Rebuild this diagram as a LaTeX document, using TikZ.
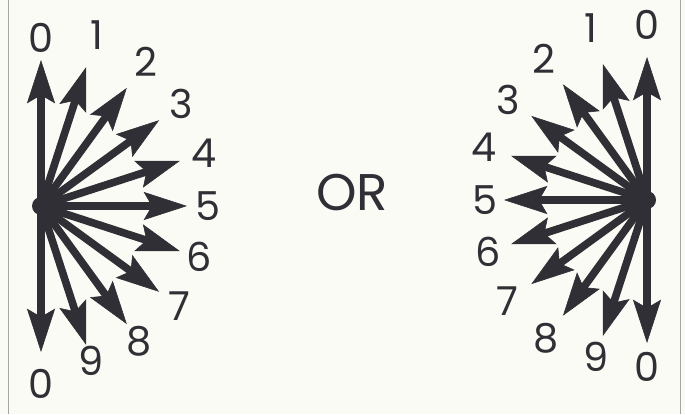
\documentclass[tikz,border=0pt]{standalone}
\usepackage{fontspec}
\setmainfont{Poppins}
\usetikzlibrary{arrows.meta,calc}
\definecolor{ink}{HTML}{2F2F35}
\definecolor{paper}{HTML}{FBFBF6}
\tikzset{
  vec/.style   = {-{Stealth[length=37pt,width=24pt,inset=7pt,line width=0.5pt]},
                  line width=6.5pt, ink},
  num/.style   = {font=\fontsize{34}{34}\selectfont, text=ink, inner sep=0pt},
  word/.style  = {font=\fontsize{44}{44}\selectfont, text=ink, inner sep=0pt},
  frame/.style = {gray!70, line width=0.8pt},
}

\begin{document}
\begin{tikzpicture}[x=0.03cm,y=0.03cm]
  \fill[paper] (0,0) rectangle (685,414);
  \useasboundingbox (0,0) rectangle (685,414);
  \draw[frame] (8,0) -- (8,414);
  \draw[frame] (680,0) -- (680,414);
  % left fan: 0 on top, turning clockwise down to the other 0
  \coordinate (Lc) at (41,208);
  \foreach \k/\t/\r in {0/0/168,1/1/180,2/2/178,3/3/173,4/4/171,5/5/167,
                        6/6/166,7/7/171,8/8/167,9/9/163,10/0/178} {
    \pgfmathsetmacro{\a}{90-18*\k}
    \coordinate (Lt\k) at ($(Lc)+(\a:146)$);
    \draw[vec] (Lc) -- (Lt\k);
    \node[num] (Ll\k) at ($(Lc)+(\a:\r)$) {\t};
  }
  \fill[ink] (Lc) circle (9);
  % right fan, mirrored
  \coordinate (Rc) at (647,214);
  \foreach \k/\t/\r in {0/0/175,1/1/181,2/2/175,3/3/171,4/4/171,5/5/162,
                        6/6/167,7/7/172,8/8/171,9/9/165,10/0/167} {
    \pgfmathsetmacro{\a}{90+18*\k}
    \coordinate (Rt\k) at ($(Rc)+(\a:143)$);
    \draw[vec] (Rc) -- (Rt\k);
    \node[num] (Rl\k) at ($(Rc)+(\a:\r)$) {\t};
  }
  \fill[ink] (Rc) circle (9);
  \node[word] (or) at (352,221) {OR};
\end{tikzpicture}
\end{document}
